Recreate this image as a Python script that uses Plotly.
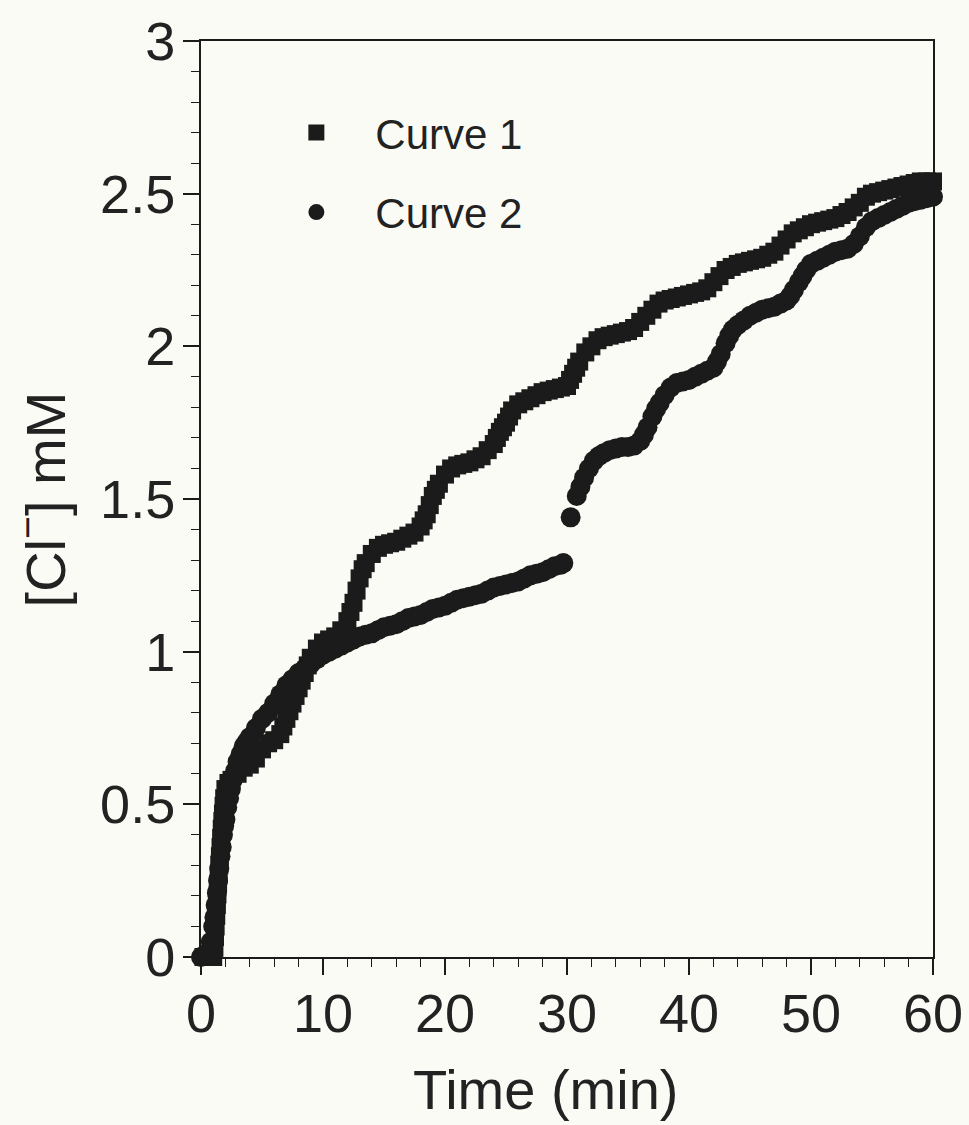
import plotly.graph_objects as go

# ---- data ----
t1 = [-0.3, 0.2, 0.7, 1.0, 1.1, 1.15, 1.2, 1.25, 1.3, 1.35, 1.4, 1.45, 1.5, 1.55, 1.6,
      1.65, 1.7, 1.75, 1.8, 1.85, 1.9, 2.0, 2.25, 2.5, 3.0, 3.5, 4.0, 4.5, 5.0, 5.5,
      6.0, 6.5, 6.75, 7.0, 7.25, 7.5, 7.75, 8.0, 8.25, 8.5, 8.75, 9.0, 9.5, 10, 10.5,
      11, 11.5, 12, 12.25, 12.5, 12.75, 13, 13.25, 13.5, 14, 14.5, 15, 15.5, 16,
      16.5, 17, 17.5, 18, 18.25, 18.5, 18.75, 19, 19.25, 19.5, 20, 20.5, 21, 21.5,
      22, 22.5, 23, 23.5, 24, 24.25, 24.5, 24.75, 25, 25.25, 25.5, 26, 26.5, 27,
      27.5, 28, 28.5, 29, 29.5, 30, 30.25, 30.5, 30.75, 31, 31.5, 32, 32.5, 33,
      33.5, 34, 34.5, 35, 35.5, 36, 36.5, 37, 37.5, 38, 38.5, 39, 39.5, 40, 40.5,
      41, 41.5, 42, 42.5, 43, 43.5, 44, 44.5, 45, 45.5, 46, 46.5, 47, 47.5, 48,
      48.5, 49, 49.5, 50, 50.5, 51, 51.5, 52, 52.5, 53, 53.5, 54, 54.5, 55, 55.5,
      56, 56.5, 57, 57.5, 58, 58.5, 59, 59.5, 60]
c1 = [0.0, 0.0, 0.0, 0.0, 0.03, 0.065, 0.10, 0.135, 0.17, 0.205, 0.24, 0.27, 0.30,
      0.33, 0.36, 0.39, 0.42, 0.445, 0.47, 0.495, 0.52, 0.55, 0.57, 0.58, 0.60, 0.62,
      0.63, 0.65, 0.68, 0.70, 0.71, 0.73, 0.755, 0.78, 0.805, 0.83, 0.855, 0.88,
      0.905, 0.93, 0.955, 0.98, 1.01, 1.03, 1.04, 1.05, 1.07, 1.10, 1.13, 1.16, 1.20,
      1.24, 1.27, 1.29, 1.32, 1.34, 1.35, 1.355, 1.36, 1.37, 1.38, 1.39, 1.41, 1.43,
      1.45, 1.48, 1.51, 1.53, 1.55, 1.58, 1.60, 1.61, 1.615, 1.62, 1.63, 1.64, 1.66,
      1.68, 1.70, 1.72, 1.735, 1.75, 1.77, 1.79, 1.81, 1.82, 1.83, 1.84, 1.85, 1.855,
      1.86, 1.865, 1.87, 1.89, 1.91, 1.93, 1.95, 1.98, 2.00, 2.02, 2.03, 2.035, 2.04,
      2.045, 2.05, 2.06, 2.08, 2.10, 2.12, 2.14, 2.15, 2.155, 2.16, 2.165, 2.17,
      2.175, 2.18, 2.19, 2.21, 2.23, 2.25, 2.26, 2.27, 2.275, 2.28, 2.285, 2.29,
      2.30, 2.31, 2.33, 2.35, 2.37, 2.38, 2.39, 2.40, 2.405, 2.41, 2.415, 2.42, 2.43,
      2.44, 2.455, 2.47, 2.49, 2.50, 2.505, 2.51, 2.515, 2.52, 2.525, 2.53, 2.535,
      2.54, 2.54, 2.54]

t2 = [0.0, 0.4, 0.8, 1.0, 1.1, 1.2, 1.3, 1.4, 1.5, 1.6, 1.7, 1.8, 1.9, 2.0, 2.15, 2.3,
      2.45, 2.6, 2.8, 3.0, 3.25, 3.5, 3.75, 4.0, 4.5, 5.0, 5.5, 6.0, 6.5, 7.0, 7.5,
      8.0, 8.5, 9.0, 9.5, 10, 10.5, 11, 11.5, 12, 12.5, 13, 13.5, 14, 14.5, 15, 15.5,
      16, 16.5, 17, 17.5, 18, 18.5, 19, 19.5, 20, 20.5, 21, 21.5, 22, 22.5, 23, 23.5,
      24, 24.5, 25, 25.5, 26, 26.5, 27, 27.5, 28, 28.5, 29, 29.5, 29.7,
      30.3, 30.8, 31.1, 31.4, 31.8, 32.2, 32.6, 33, 33.5, 34, 34.5, 35, 35.5, 36,
      36.3, 36.6, 37, 37.3, 37.6, 38, 38.5, 39, 39.5, 40, 40.5, 41, 41.5, 42, 42.3,
      42.6, 43, 43.3, 43.6, 44, 44.5, 45, 45.5, 46, 46.5, 47, 47.5, 48, 48.3, 48.6,
      49, 49.3, 49.6, 50, 50.5, 51, 51.5, 52, 52.5, 53, 53.5, 54, 54.5, 55, 55.5,
      56, 56.5, 57, 57.5, 58, 58.5, 59, 59.5, 60]
c2 = [0.0, 0.01, 0.05, 0.10, 0.13, 0.17, 0.21, 0.25, 0.29, 0.33, 0.36, 0.40, 0.43,
      0.45, 0.49, 0.52, 0.55, 0.58, 0.61, 0.64, 0.665, 0.69, 0.705, 0.72, 0.75, 0.78,
      0.80, 0.83, 0.86, 0.89, 0.91, 0.93, 0.945, 0.96, 0.975, 0.99, 1.00, 1.01, 1.02,
      1.03, 1.04, 1.05, 1.055, 1.06, 1.07, 1.08, 1.085, 1.09, 1.10, 1.11, 1.115, 1.12,
      1.13, 1.14, 1.145, 1.15, 1.16, 1.17, 1.175, 1.18, 1.185, 1.19, 1.20, 1.21, 1.215,
      1.22, 1.225, 1.23, 1.24, 1.25, 1.255, 1.26, 1.27, 1.28, 1.285, 1.29,
      1.44, 1.51, 1.54, 1.57, 1.60, 1.625, 1.64, 1.65, 1.66, 1.665, 1.67, 1.67, 1.675,
      1.69, 1.71, 1.735, 1.77, 1.795, 1.815, 1.84, 1.865, 1.88, 1.885, 1.89, 1.90,
      1.91, 1.92, 1.93, 1.95, 1.975, 2.01, 2.035, 2.055, 2.07, 2.085, 2.10, 2.11,
      2.12, 2.125, 2.13, 2.14, 2.15, 2.165, 2.185, 2.21, 2.23, 2.25, 2.27, 2.28, 2.29,
      2.30, 2.31, 2.315, 2.32, 2.335, 2.36, 2.39, 2.41, 2.42, 2.43, 2.44, 2.45, 2.46,
      2.47, 2.475, 2.48, 2.485, 2.49]

series_names = ["Curve 1", "Curve 2"]
x_ticks = [0, 10, 20, 30, 40, 50, 60]
y_ticks = [0, 0.5, 1, 1.5, 2, 2.5, 3]
y_tick_text = ["0", "0.5", "1", "1.5", "2", "2.5", "3"]

INK = "#1b1b1b"
BG = "#fbfbf5"
FONT = "Liberation Sans, Arial, sans-serif"

fig = go.Figure()
fig.add_trace(go.Scatter(
    x=t1, y=c1, mode="markers", name=series_names[0], legendgroup="a",
    marker=dict(symbol="square", size=18, color=INK, line=dict(width=0)),
    cliponaxis=False,
))
fig.add_trace(go.Scatter(
    x=t2, y=c2, mode="markers", name=series_names[1], legendgroup="b",
    marker=dict(symbol="circle", size=20, color=INK, line=dict(width=0)),
    cliponaxis=False,
))

axis_common = dict(
    showline=True, linecolor=INK, linewidth=2, mirror=True,
    showgrid=False, zeroline=False, automargin=False,
    ticks="outside", ticklen=16, tickwidth=1.5, tickcolor=INK,
    tickfont=dict(family=FONT, size=54, color="#222"),
)

fig.update_xaxes(
    range=[0, 60], tickvals=x_ticks, ticklabelstandoff=-8,
    minor=dict(dtick=2, ticks="outside", ticklen=8, tickwidth=1, tickcolor=INK),
    **axis_common,
)
fig.update_yaxes(
    range=[0, 3], tickvals=y_ticks, ticktext=y_tick_text, ticklabelstandoff=-3,
    minor=dict(dtick=0.1, ticks="outside", ticklen=8, tickwidth=1, tickcolor=INK),
    **axis_common,
)

fig.update_layout(
    width=969, height=1125,
    margin=dict(l=201, r=36, t=41, b=168, autoexpand=False),
    paper_bgcolor=BG, plot_bgcolor=BG,
    showlegend=True,
    legend=dict(
        x=0.077, y=0.937, xanchor="left", yanchor="top",
        bgcolor="rgba(0,0,0,0)", borderwidth=0,
        font=dict(family=FONT, size=42, color="#222"),
        itemwidth=108, traceorder="grouped", tracegroupgap=22,
    ),
    annotations=[
        dict(text="Time (min)", xref="paper", yref="paper", x=0.47, y=-0.145,
             xanchor="center", yanchor="middle", showarrow=False,
             font=dict(family=FONT, size=56, color="#222")),
        dict(text="[Cl<sup>−</sup>] mM", xref="paper", yref="paper", x=-0.218, y=0.5,
             xanchor="center", yanchor="middle", showarrow=False, textangle=-90,
             font=dict(family=FONT, size=56, color="#222")),
    ],
)

fig.write_html(
    "out.html",
    config={"displayModeBar": False},
    post_script="document.body.style.margin='0';document.body.style.background='#fbfbf5';",
)
